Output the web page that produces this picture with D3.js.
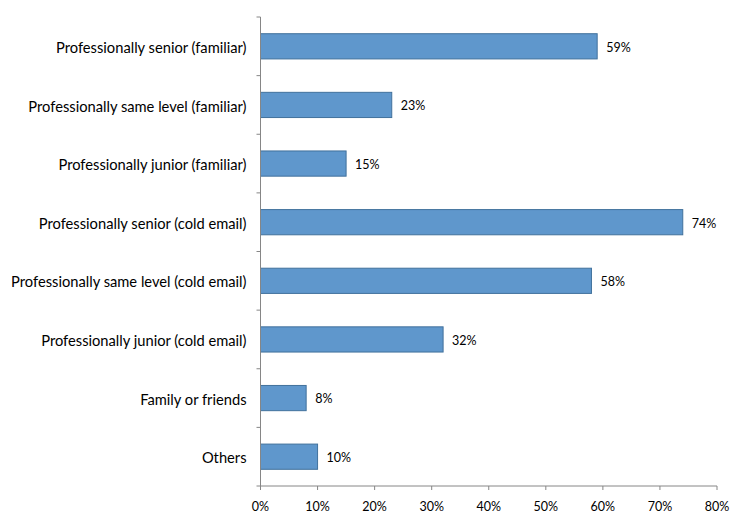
<!DOCTYPE html>
<html>
<head>
<meta charset="utf-8">
<script src="https://cdn.jsdelivr.net/npm/d3@7"></script>
<style>
  body { margin: 0; background: #fff; }
  svg { display: block; font-family: Lato, "Open Sans", sans-serif; }
</style>
</head>
<body>
<div id="chart"></div>
<script>
// Share of respondents by contact type
const categories = [
  "Professionally senior (familiar)",
  "Professionally same level (familiar)",
  "Professionally junior (familiar)",
  "Professionally senior (cold email)",
  "Professionally same level (cold email)",
  "Professionally junior (cold email)",
  "Family or friends",
  "Others"
];
const values = [59, 23, 15, 74, 58, 32, 8, 10];
const xTicks = [0, 10, 20, 30, 40, 50, 60, 70, 80];

const W = 747, H = 522;
const margin = { top: 17, right: 30, bottom: 36, left: 260.5 };

const svg = d3.select("#chart").append("svg")
  .attr("width", W).attr("height", H);

const x = d3.scaleLinear()
  .domain([0, 80])
  .range([margin.left, W - margin.right]);

const y = d3.scaleBand()
  .domain(categories)
  .range([margin.top, H - margin.bottom])
  .paddingInner(0.57)
  .paddingOuter(0.285);

const yb = d3.scaleBand()
  .domain(categories)
  .range([margin.top, H - margin.bottom]);

const axisColor = "#868686";

// Bars
svg.append("g")
  .selectAll("rect")
  .data(categories)
  .enter().append("rect")
  .attr("x", x(0))
  .attr("y", d => y(d))
  .attr("width", (d, i) => x(values[i]) - x(0))
  .attr("height", y.bandwidth())
  .attr("fill", "#5f97cc")
  .attr("stroke", "#41719c")
  .attr("stroke-width", 1);

// Value labels
svg.append("g")
  .selectAll("text")
  .data(categories)
  .enter().append("text")
  .attr("x", (d, i) => x(values[i]) + 9)
  .attr("y", d => y(d) + y.bandwidth() / 2 + 1)
  .attr("dy", "0.35em")
  .attr("font-size", 12.5)
  .attr("fill", "#000")
  .text((d, i) => values[i] + "%");

// X axis
const bottom = H - margin.bottom;
const gx = svg.append("g").attr("transform", `translate(0,${bottom})`);
gx.append("line")
  .attr("x1", x(0)).attr("x2", x(80))
  .attr("stroke", axisColor);
gx.selectAll("line.tick")
  .data(xTicks)
  .enter().append("line")
  .attr("class", "tick")
  .attr("x1", d => x(d)).attr("x2", d => x(d))
  .attr("y1", 0).attr("y2", 4)
  .attr("stroke", axisColor);
gx.selectAll("text")
  .data(xTicks)
  .enter().append("text")
  .attr("x", d => x(d))
  .attr("y", 25)
  .attr("text-anchor", "middle")
  .attr("font-size", 12.5)
  .text(d => d + "%");

// Y axis
const gy = svg.append("g");
gy.append("line")
  .attr("x1", x(0)).attr("x2", x(0))
  .attr("y1", margin.top).attr("y2", bottom)
  .attr("stroke", axisColor);
const bounds = categories.map(c => yb(c)).concat([bottom]);
gy.selectAll("line.tick")
  .data(bounds)
  .enter().append("line")
  .attr("class", "tick")
  .attr("x1", x(0) - 4).attr("x2", x(0))
  .attr("y1", d => d).attr("y2", d => d)
  .attr("stroke", axisColor);
gy.selectAll("text")
  .data(categories)
  .enter().append("text")
  .attr("x", x(0) - 14)
  .attr("y", d => yb(d) + yb.bandwidth() / 2 + 1.5)
  .attr("dy", "0.35em")
  .attr("text-anchor", "end")
  .attr("font-size", 14.7)
  .text(d => d);
</script>
</body>
</html>
